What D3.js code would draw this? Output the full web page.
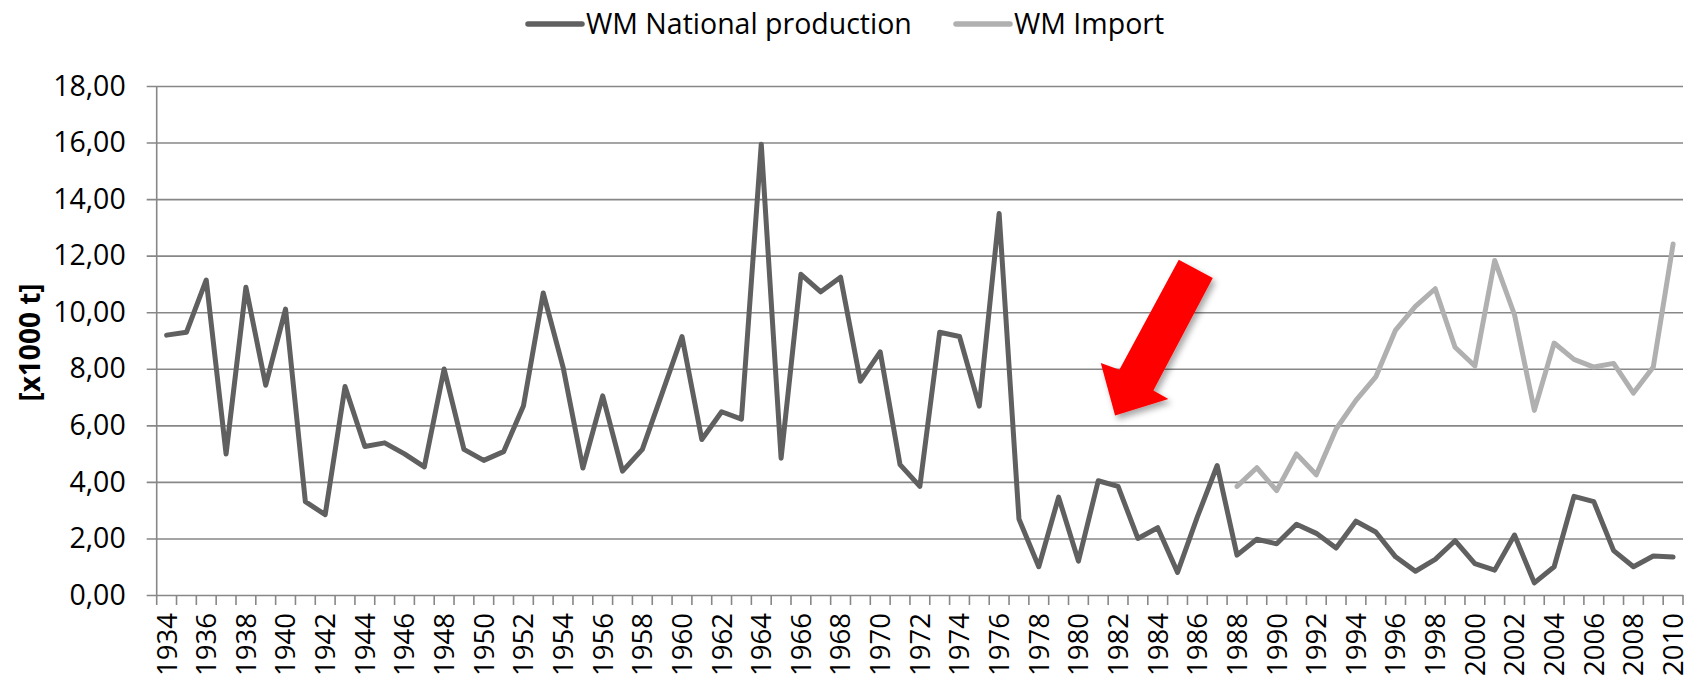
<!DOCTYPE html>
<html>
<head>
<meta charset="utf-8">
<script src="https://cdn.jsdelivr.net/npm/d3@7"></script>
<style>
  body { margin: 0; background: #fff; }
  text { font-family: "Open Sans", sans-serif; fill: #000; }
</style>
</head>
<body>
<svg id="chart"></svg>
<script>
const years = d3.range(1934, 2011);
const nationalProduction = [
  9.19, 9.29, 11.14, 4.99, 10.88, 7.42, 10.11, 3.30, 2.84, 7.37,
  5.25, 5.38, 4.99, 4.53, 7.99, 5.15, 4.76, 5.07, 6.68, 10.68,
  8.06, 4.49, 7.04, 4.38, 5.15, 7.14, 9.14, 5.50, 6.48, 6.22,
  15.94, 4.84, 11.34, 10.72, 11.24, 7.56, 8.60, 4.61, 3.84, 9.29,
  9.14, 6.68, 13.49, 2.69, 1.00, 3.46, 1.20, 4.04, 3.84, 2.00,
  2.38, 0.80, 2.76, 4.58, 1.41, 1.97, 1.81, 2.50, 2.18, 1.66,
  2.61, 2.23, 1.35, 0.84, 1.26, 1.92, 1.11, 0.88, 2.12, 0.43,
  1.00, 3.49, 3.30, 1.57, 1.00, 1.38, 1.34
];
const importStart = 1988;
const importValues = [
  3.84, 4.50, 3.69, 4.99, 4.25, 5.87, 6.88, 7.71, 9.37, 10.21,
  10.83, 8.76, 8.10, 11.83, 9.91, 6.53, 8.91, 8.33, 8.06, 8.19,
  7.14, 8.06, 12.41
];
const yTicks = d3.range(0, 19, 2);
const seriesNames = ['WM National production', 'WM Import'];
const arrowTip = [1982, 6.35];

const width = 1688;
const height = 681;
const margin = {top: 86, right: 5, bottom: 86, left: 156.7};

const svg = d3.select('#chart')
    .attr('width', width)
    .attr('height', height);

const defs = svg.append('defs');
const shadow = defs.append('filter')
    .attr('id', 'shadow')
    .attr('x', '-20%').attr('y', '-20%')
    .attr('width', '150%').attr('height', '150%');
shadow.append('feDropShadow')
    .attr('dx', 3).attr('dy', 4)
    .attr('stdDeviation', 3)
    .attr('flood-color', '#000')
    .attr('flood-opacity', 0.35);

const xScale = d3.scaleBand()
    .domain(years)
    .range([margin.left, width - margin.right]);

const yScale = d3.scaleLinear()
    .domain([0, 18])
    .range([height - margin.bottom, margin.top]);

const cx = y => xScale(y) + xScale.bandwidth() / 2;

// gridlines + y labels
const yAxis = d3.axisLeft(yScale)
    .tickValues(yTicks)
    .tickSize(-(width - margin.right - margin.left))
    .tickSizeOuter(0)
    .tickFormat(d => d3.format('.2f')(d).replace('.', ','));

const gy = svg.append('g')
    .attr('transform', `translate(${margin.left},0)`)
    .call(yAxis);
gy.select('.domain').remove();
gy.selectAll('.tick line')
    .attr('x1', -10)
    .attr('stroke', '#878787')
    .attr('stroke-width', 1.6);
gy.selectAll('.tick text')
    .attr('x', -31)
    .style('font-size', '28.5px')
    .attr('font-family', null);

// vertical axis line
svg.append('line')
    .attr('x1', margin.left).attr('x2', margin.left)
    .attr('y1', yScale(18)).attr('y2', yScale(0))
    .attr('stroke', '#878787')
    .attr('stroke-width', 1.6);

// x axis: tick marks at category boundaries
const boundaries = years.map(y => xScale(y)).concat([width - margin.right]);
svg.append('g')
    .selectAll('line')
    .data(boundaries)
    .join('line')
    .attr('x1', d => d).attr('x2', d => d)
    .attr('y1', yScale(0)).attr('y2', yScale(0) + 10)
    .attr('stroke', '#878787')
    .attr('stroke-width', 1.6);

svg.append('g')
    .selectAll('text')
    .data(years.filter(y => (y - 1934) % 2 === 0))
    .join('text')
    .attr('transform', d => `translate(${cx(d)},${yScale(0) + 18}) rotate(-90)`)
    .attr('text-anchor', 'end')
    .attr('dy', '0.36em')
    .style('font-size', '27.5px')
    .text(d => d);

// y title
svg.append('text')
    .attr('transform', `translate(30,${(yScale(18) + yScale(0)) / 2 + 2}) rotate(-90)`)
    .attr('text-anchor', 'middle')
    .attr('dy', '0.35em')
    .style('font-size', '28px')
    .style('font-weight', 'bold')
    .text('[x1000 t]');

// lines
const line = d3.line()
    .x(d => cx(d[0]))
    .y(d => yScale(d[1]));

const nationalData = years.map((y, i) => [y, nationalProduction[i]]);
const importData = importValues.map((v, i) => [importStart + i, v]);

svg.append('path')
    .datum(importData)
    .attr('fill', 'none')
    .attr('stroke', '#b0b0b0')
    .attr('stroke-width', 5)
    .attr('stroke-linejoin', 'round')
    .attr('stroke-linecap', 'round')
    .attr('d', line);

svg.append('path')
    .datum(nationalData)
    .attr('fill', 'none')
    .attr('stroke', '#606060')
    .attr('stroke-width', 5)
    .attr('stroke-linejoin', 'round')
    .attr('stroke-linecap', 'round')
    .attr('d', line);

// legend
const legendItems = [
  {name: seriesNames[0], color: '#606060', x: 528},
  {name: seriesNames[1], color: '#b0b0b0', x: 956}
];
const legend = svg.append('g');
legendItems.forEach(item => {
    legend.append('line')
        .attr('x1', item.x).attr('x2', item.x + 54)
        .attr('y1', 24).attr('y2', 24)
        .attr('stroke', item.color)
        .attr('stroke-width', 5.5)
        .attr('stroke-linecap', 'round');
    legend.append('text')
        .attr('x', item.x + 58)
        .attr('y', 24)
        .attr('dy', '0.35em')
        .style('font-size', '28.5px')
        .text(item.name);
});

// red arrow annotation (shape in px, anchored at a data point)
const tipX = cx(arrowTip[0]) - 3;
const tipY = yScale(arrowTip[1]);
const arrowShape = [
  [63.7, -155.7], [97.7, -137.4], [38.3, -25], [53.3, -16.4],
  [0, 0], [-14.3, -52.4], [4.3, -45.7]
];
svg.append('path')
    .attr('d', d3.line()(arrowShape.map(p => [tipX + p[0], tipY + p[1]])) + 'Z')
    .attr('fill', '#ff0000')
    .attr('filter', 'url(#shadow)');
</script>
</body>
</html>
